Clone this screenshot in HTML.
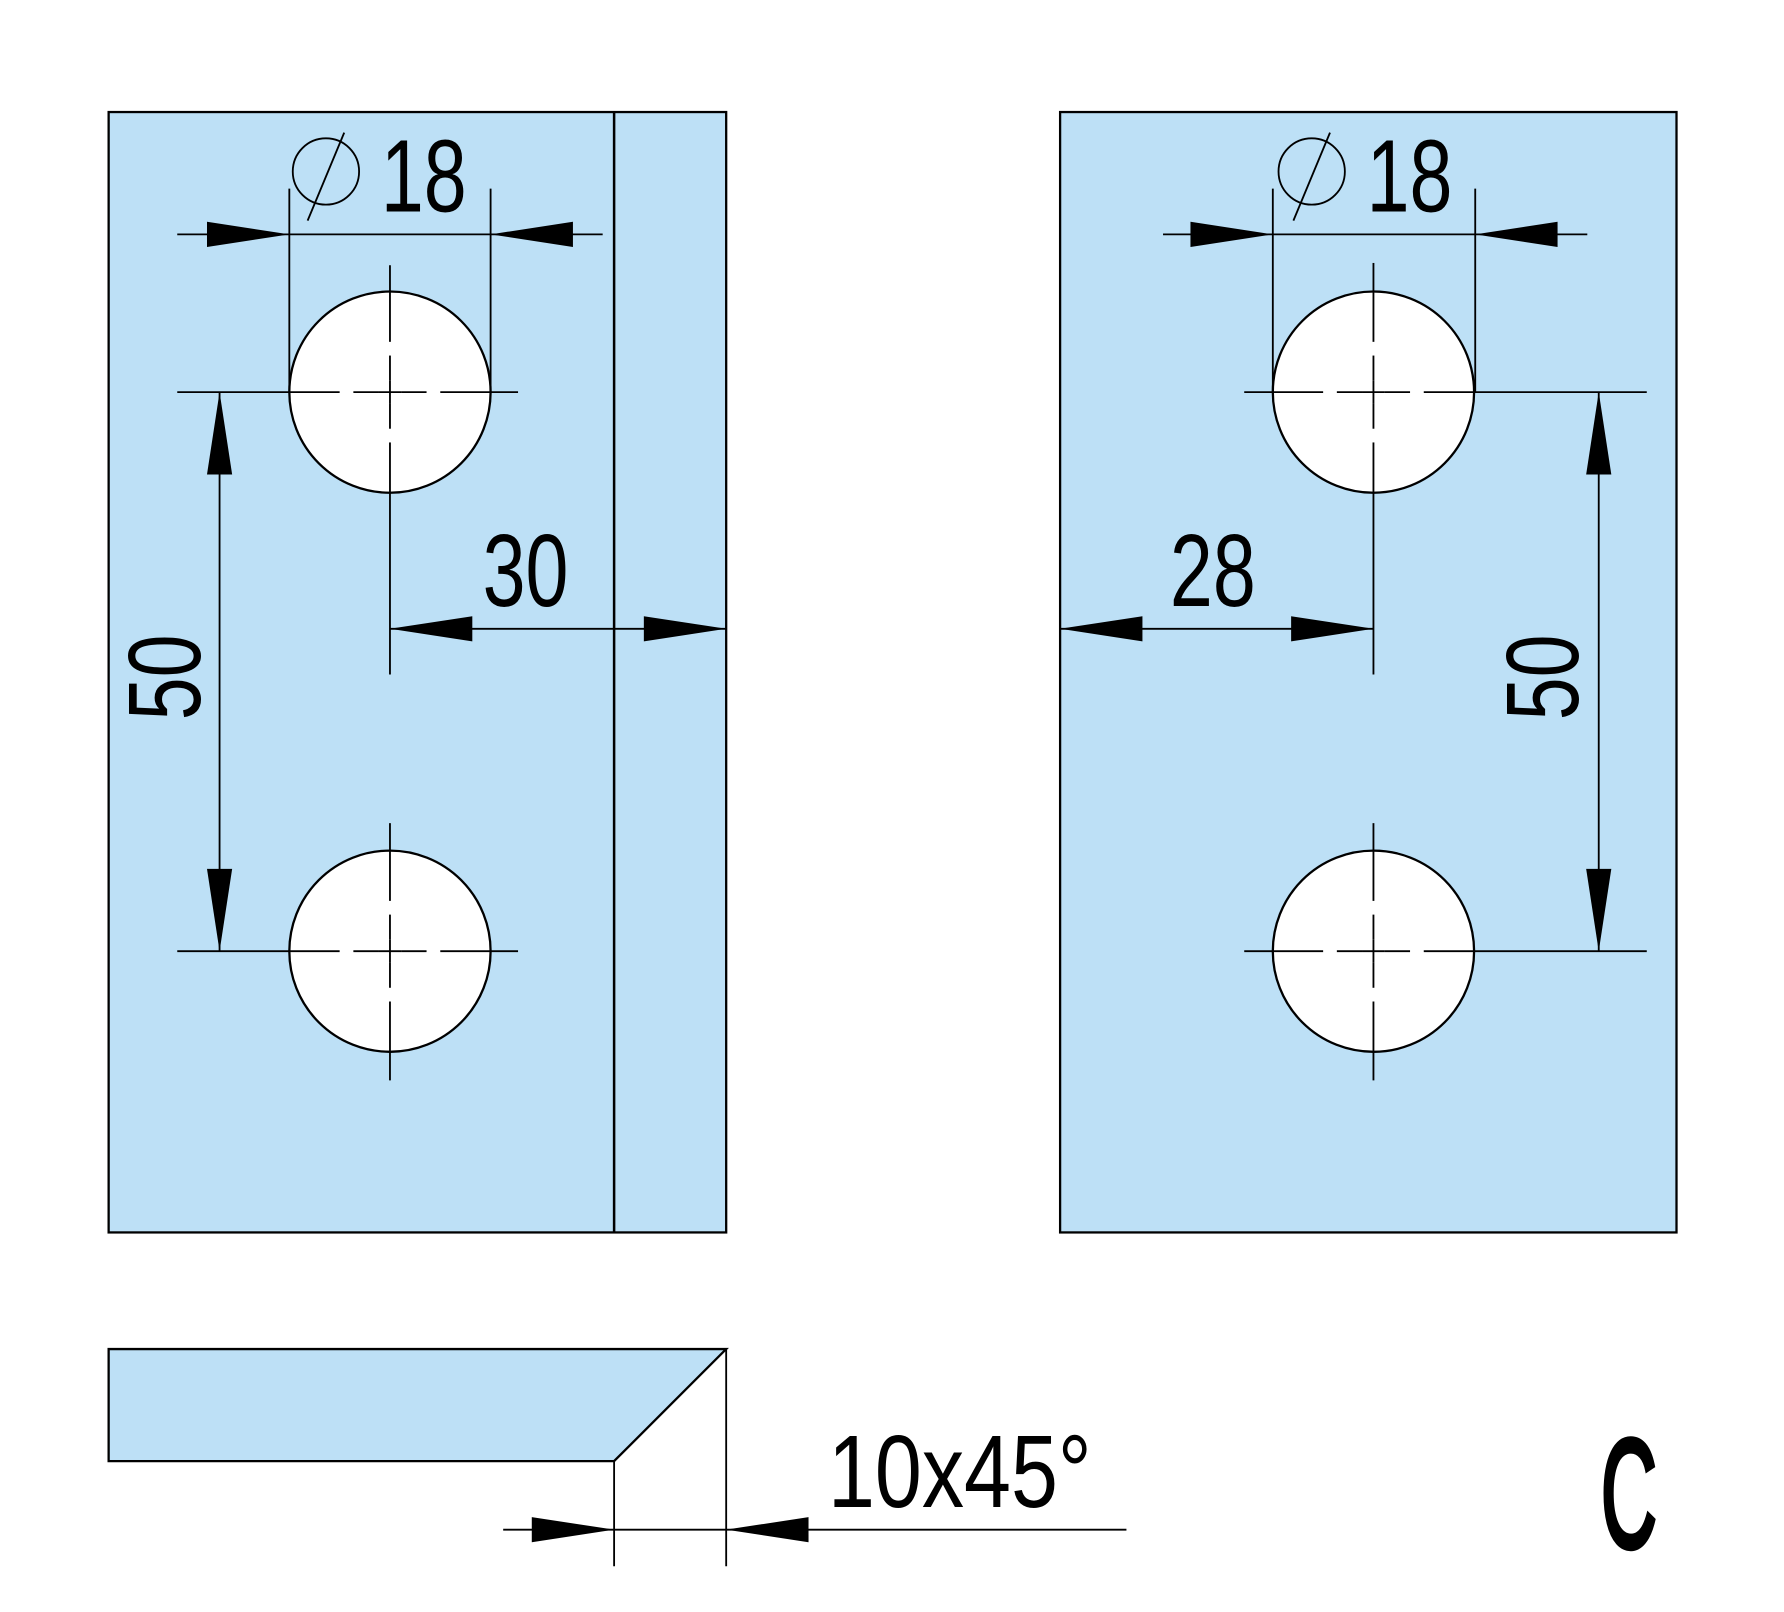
<!DOCTYPE html>
<html><head><style>html,body{margin:0;padding:0;background:#fff}svg{display:block}</style></head>
<body>
<svg width="1784" height="1612" viewBox="0 0 1560 1410" preserveAspectRatio="none" xmlns="http://www.w3.org/2000/svg">
<defs>
<path id="ar" d="M0,0 L-72,-11 L-72,11 Z" fill="#000"/>
<g id="cx" stroke="#000" stroke-width="1.6" fill="none">
<line x1="-88" y1="0" x2="-44" y2="0"/>
<line x1="-32" y1="0" x2="-10" y2="0"/>
<line x1="10" y1="0" x2="32" y2="0"/>
<line x1="44" y1="0" x2="88" y2="0"/>
<line x1="0" y1="-88" x2="0" y2="-44"/>
<line x1="0" y1="-32" x2="0" y2="-10"/>
<line x1="0" y1="10" x2="0" y2="32"/>
<line x1="0" y1="44" x2="0" y2="88"/>
<line x1="-10" y1="0" x2="10" y2="0"/>
<line x1="0" y1="-10" x2="0" y2="10"/>
</g>
</defs>
<g stroke="#000" stroke-width="2" fill="#bde0f6">
<rect x="95" y="98" width="540" height="980"/>
<rect x="927" y="98" width="539" height="980"/>
<polygon points="95,1180 635,1180 537,1278 95,1278"/>
</g>
<g stroke="#000" stroke-width="2" fill="#fff">
<circle cx="341" cy="343" r="88"/>
<circle cx="341" cy="832" r="88"/>
<circle cx="1201" cy="343" r="88"/>
<circle cx="1201" cy="832" r="88"/>
</g>
<use href="#cx" x="341" y="343"/>
<use href="#cx" x="341" y="832"/>
<use href="#cx" x="1201" y="343"/>
<use href="#cx" x="1201" y="832"/>
<g stroke="#000" stroke-width="1.6" fill="none">
<line x1="537" y1="98" x2="537" y2="1078" stroke-width="2.2"/>
<line x1="155" y1="205" x2="527" y2="205"/>
<line x1="253" y1="165" x2="253" y2="343"/>
<line x1="429" y1="165" x2="429" y2="343"/>
<circle cx="285" cy="150" r="29"/>
<line x1="269" y1="193" x2="301" y2="116"/>
<line x1="155" y1="343" x2="253" y2="343"/>
<line x1="429" y1="343" x2="453" y2="343"/>
<line x1="341" y1="232" x2="341" y2="255"/>
<line x1="341" y1="431" x2="341" y2="590"/>
<line x1="155" y1="832" x2="253" y2="832"/>
<line x1="429" y1="832" x2="453" y2="832"/>
<line x1="341" y1="720" x2="341" y2="744"/>
<line x1="341" y1="920" x2="341" y2="945"/>
<line x1="192" y1="343" x2="192" y2="832"/>
<line x1="341" y1="550" x2="635" y2="550"/>
<line x1="1017" y1="205" x2="1388" y2="205"/>
<line x1="1113" y1="165" x2="1113" y2="343"/>
<line x1="1290" y1="165" x2="1290" y2="343"/>
<circle cx="1147" cy="150" r="29"/>
<line x1="1131" y1="193" x2="1163" y2="116"/>
<line x1="1088" y1="343" x2="1113" y2="343"/>
<line x1="1289" y1="343" x2="1440" y2="343"/>
<line x1="1201" y1="230" x2="1201" y2="255"/>
<line x1="1201" y1="431" x2="1201" y2="590"/>
<line x1="1088" y1="832" x2="1113" y2="832"/>
<line x1="1289" y1="832" x2="1440" y2="832"/>
<line x1="1201" y1="720" x2="1201" y2="744"/>
<line x1="1201" y1="920" x2="1201" y2="945"/>
<line x1="1398" y1="343" x2="1398" y2="832"/>
<line x1="927" y1="550" x2="1201" y2="550"/>
<line x1="537" y1="1278" x2="537" y2="1370"/>
<line x1="635" y1="1180" x2="635" y2="1370"/>
<line x1="440" y1="1338" x2="985" y2="1338"/>
</g>
<g>
<use href="#ar" transform="translate(253,205)"/>
<use href="#ar" transform="translate(429,205) rotate(180)"/>
<use href="#ar" transform="translate(192,343) rotate(-90)"/>
<use href="#ar" transform="translate(192,832) rotate(90)"/>
<use href="#ar" transform="translate(341,550) rotate(180)"/>
<use href="#ar" transform="translate(635,550)"/>
<use href="#ar" transform="translate(1113,205)"/>
<use href="#ar" transform="translate(1290,205) rotate(180)"/>
<use href="#ar" transform="translate(1398,343) rotate(-90)"/>
<use href="#ar" transform="translate(1398,832) rotate(90)"/>
<use href="#ar" transform="translate(927,550) rotate(180)"/>
<use href="#ar" transform="translate(1201,550)"/>
<use href="#ar" transform="translate(537,1338)"/>
<use href="#ar" transform="translate(635,1338) rotate(180)"/>
</g>
<g font-family="Liberation Sans, sans-serif" font-size="90" fill="#000">
<text transform="translate(333,185) scale(0.75,1)">18</text>
<text transform="translate(1195,185) scale(0.75,1)">18</text>
<text transform="translate(422,530) scale(0.75,1)">30</text>
<text transform="translate(1023,530) scale(0.75,1)">28</text>
<text transform="translate(175,630) rotate(-90) scale(0.75,1)">50</text>
<text transform="translate(1380,630) rotate(-90) scale(0.75,1)">50</text>
<text transform="translate(724,1318) scale(0.82,1)">10x45°</text>
<text transform="translate(1400,1353) scale(0.5,1)" font-size="135" stroke="#000" stroke-width="5">C</text>
</g>
</svg>
</body></html>
